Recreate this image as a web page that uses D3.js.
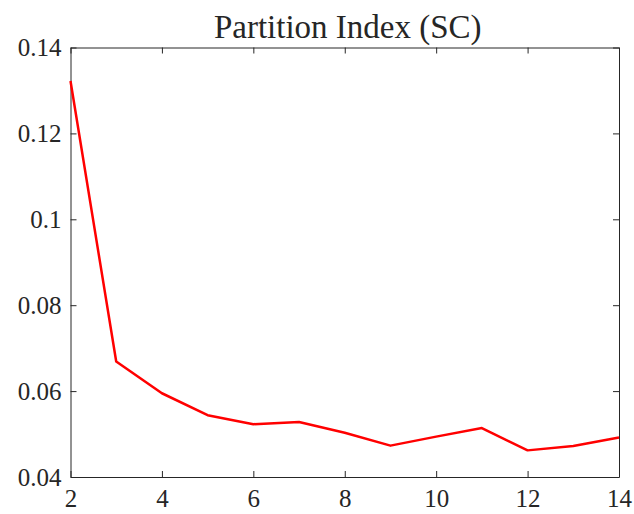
<!DOCTYPE html>
<html>
<head>
<meta charset="utf-8">
<script src="https://cdn.jsdelivr.net/npm/d3@7"></script>
<style>
  body { margin: 0; background: #fff; }
  text { font-family: "Liberation Serif", "DejaVu Serif", serif; fill: #262626; }
</style>
</head>
<body>
<div id="chart"></div>
<script>
// number of clusters and partition index values
var clusters = [2, 3, 4, 5, 6, 7, 8, 9, 10, 11, 12, 13, 14];
var scValues = [0.1322, 0.0669, 0.0595, 0.0544, 0.0523, 0.0528, 0.0503, 0.0473, 0.0494, 0.0514, 0.0462, 0.0472, 0.0492];
var xTicks = [2, 4, 6, 8, 10, 12, 14];
var yTicks = [0.04, 0.06, 0.08, 0.1, 0.12, 0.14];
var title = "Partition Index (SC)";

var width = 634, height = 514;
var margin = {top: 47.5, right: 15, bottom: 37, left: 70.5};
var w = width - margin.left - margin.right,
    h = height - margin.top - margin.bottom;

var svg = d3.select("#chart")
  .append("svg")
  .attr("width", width)
  .attr("height", height);

var g = svg.append("g")
  .attr("transform", `translate(${margin.left},${margin.top})`);

var x = d3.scaleLinear().domain([2, 14]).range([0, w]);
var y = d3.scaleLinear().domain([0.04, 0.14]).range([h, 0]);

var axisColor = "#262626";
var fmt = d => String(+d.toFixed(2));

// axes, ticks pointing inwards, mirrored on top and right
var axBottom = g.append("g").attr("transform", `translate(0,${h})`)
  .call(d3.axisBottom(x).tickValues(xTicks).tickSizeInner(-6).tickSizeOuter(0).tickPadding(12));
var axTop = g.append("g")
  .call(d3.axisTop(x).tickValues(xTicks).tickSizeInner(-6).tickSizeOuter(0).tickFormat(""));
var axLeft = g.append("g")
  .call(d3.axisLeft(y).tickValues(yTicks).tickSizeInner(-6).tickSizeOuter(0).tickPadding(9).tickFormat(fmt));
var axRight = g.append("g").attr("transform", `translate(${w},0)`)
  .call(d3.axisRight(y).tickValues(yTicks).tickSizeInner(-6).tickSizeOuter(0).tickFormat(""));

[axBottom, axTop, axLeft, axRight].forEach(function(a) {
  a.selectAll("path, line").attr("stroke", axisColor).attr("stroke-width", 1);
  a.selectAll("text").attr("font-size", "25px").attr("fill", axisColor)
    .style("font-family", "'Liberation Serif', serif");
});

// the line
var line = d3.line()
  .x((d, i) => x(clusters[i]))
  .y(d => y(d));

g.append("path")
  .datum(scValues)
  .attr("fill", "none")
  .attr("stroke", "#ff0000")
  .attr("stroke-width", 2.5)
  .attr("stroke-linejoin", "round")
  .attr("d", line);

// title
svg.append("text")
  .attr("x", margin.left + w / 2 + 3)
  .attr("y", 38)
  .attr("text-anchor", "middle")
  .attr("font-size", "33px")
  .attr("fill", "#000")
  .text(title);
</script>
</body>
</html>
